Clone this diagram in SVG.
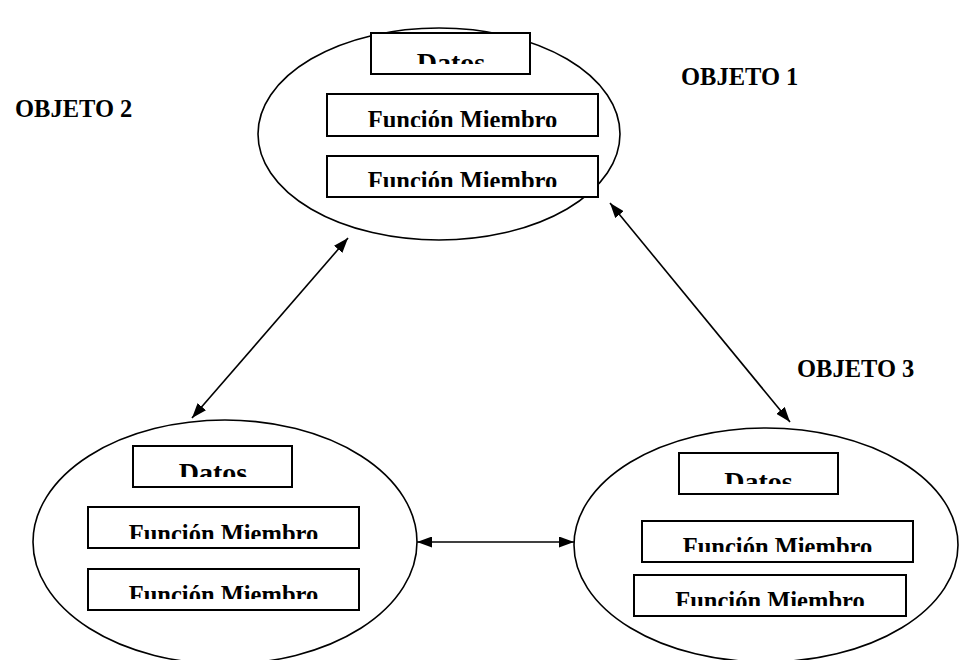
<svg xmlns="http://www.w3.org/2000/svg" width="960" height="660" viewBox="0 0 960 660">
<style>
.ell{fill:none;stroke:#000;stroke-width:1.6}
.box{fill:#fff;stroke:#000;stroke-width:2}
.t{font-family:"Liberation Serif","Times New Roman",serif;font-weight:bold;fill:#000;text-anchor:middle}
.fm{font-size:24.5px}
.dt{font-size:28px}
.lbl{font-family:"Liberation Serif","Times New Roman",serif;font-weight:bold;font-size:24.5px;fill:#000}
.con{stroke:#000;stroke-width:1.6;fill:none;marker-start:url(#ah);marker-end:url(#ah)}
</style>
<defs>
<marker id="ah" viewBox="0 0 15 11" refX="15" refY="5.5" markerWidth="15" markerHeight="11" markerUnits="userSpaceOnUse" orient="auto-start-reverse">
<path d="M0,0 L15,5.5 L0,11 z" fill="#000"/>
</marker>
<clipPath id="c1"><rect x="371" y="33" width="159" height="31"/></clipPath>
<clipPath id="c2"><rect x="327" y="94" width="271" height="33"/></clipPath>
<clipPath id="c3"><rect x="327" y="156" width="271" height="31"/></clipPath>
<clipPath id="c4"><rect x="133" y="446" width="159" height="31"/></clipPath>
<clipPath id="c5"><rect x="88" y="507" width="271" height="32"/></clipPath>
<clipPath id="c6"><rect x="88" y="569" width="271" height="30"/></clipPath>
<clipPath id="c7"><rect x="679" y="453" width="159" height="31"/></clipPath>
<clipPath id="c8"><rect x="642" y="521" width="271" height="31"/></clipPath>
<clipPath id="c9"><rect x="634" y="575" width="272" height="31"/></clipPath>
</defs>
<rect width="960" height="660" fill="#fff"/>

<g id="objeto1">
<ellipse class="ell" cx="439" cy="134" rx="181" ry="106"/>
<rect class="box" x="371" y="33" width="159" height="41"/>
<text class="t dt" x="451" y="71.5" clip-path="url(#c1)">Datos</text>
<rect class="box" x="327" y="94" width="271" height="42"/>
<text class="t fm" x="462.5" y="128" clip-path="url(#c2)">Función Miembro</text>
<rect class="box" x="327" y="156" width="271" height="41"/>
<text class="t fm" x="462.5" y="189" clip-path="url(#c3)">Función Miembro</text>
</g>

<g id="objeto2">
<ellipse class="ell" cx="225" cy="542" rx="192" ry="122"/>
<rect class="box" x="133" y="446" width="159" height="41"/>
<text class="t dt" x="213" y="481.5" clip-path="url(#c4)">Datos</text>
<rect class="box" x="88" y="507" width="271" height="41"/>
<text class="t fm" x="223.5" y="542" clip-path="url(#c5)">Función Miembro</text>
<rect class="box" x="88" y="569" width="271" height="41"/>
<text class="t fm" x="223.5" y="603" clip-path="url(#c6)">Función Miembro</text>
</g>

<g id="objeto3">
<ellipse class="ell" cx="766" cy="545" rx="192" ry="117"/>
<rect class="box" x="679" y="453" width="159" height="41"/>
<text class="t dt" x="758.5" y="490.5" clip-path="url(#c7)">Datos</text>
<rect class="box" x="642" y="521" width="271" height="41"/>
<text class="t fm" x="777.5" y="555" clip-path="url(#c8)">Función Miembro</text>
<rect class="box" x="634" y="575" width="272" height="41"/>
<text class="t fm" x="770" y="609" clip-path="url(#c9)">Función Miembro</text>
</g>

<g id="labels">
<text class="lbl" x="681" y="85">OBJETO 1</text>
<text class="lbl" x="15" y="117">OBJETO 2</text>
<text class="lbl" x="797" y="377">OBJETO 3</text>
</g>

<g id="connectors">
<line class="con" x1="192" y1="418" x2="348" y2="238"/>
<line class="con" x1="610" y1="203" x2="790" y2="422"/>
<line class="con" x1="417" y1="542" x2="574" y2="542"/>
</g>
</svg>
